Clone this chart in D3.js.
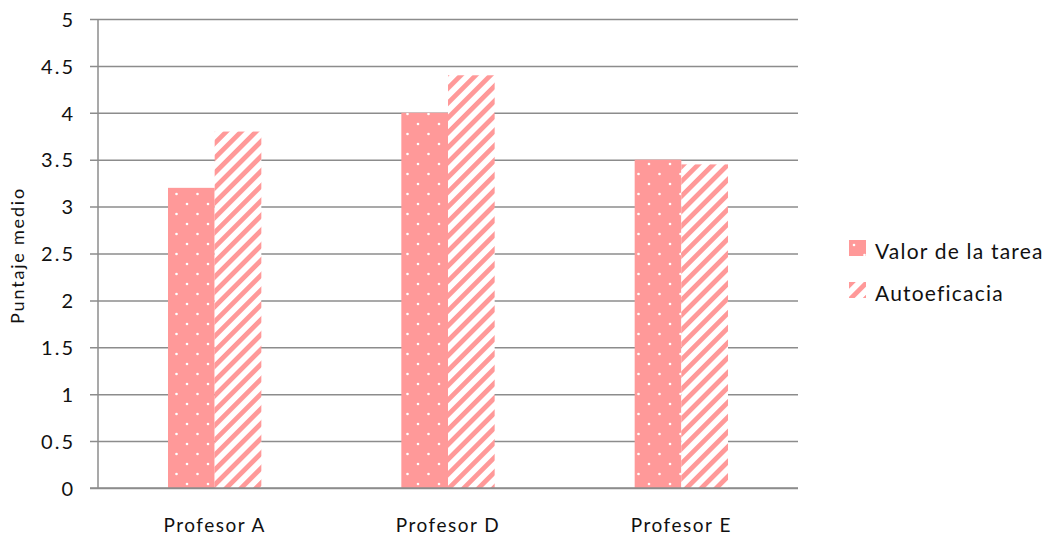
<!DOCTYPE html>
<html>
<head>
<meta charset="utf-8">
<script src="https://cdn.jsdelivr.net/npm/d3@7"></script>
<style>
  html, body { margin: 0; padding: 0; background: #fff; }
  svg { display: block; font-family: Lato, "Open Sans", "DejaVu Sans", sans-serif; }
</style>
</head>
<body>
<svg id="chart" width="1050" height="535"></svg>
<script>
const categories = ["Profesor A", "Profesor D", "Profesor E"];
const seriesNames = ["Valor de la tarea", "Autoeficacia"];
const valorTarea = [3.2, 4.0, 3.5];
const autoeficacia = [3.8, 4.4, 3.45];
const yTicks = [0, 0.5, 1, 1.5, 2, 2.5, 3, 3.5, 4, 4.5, 5];
const yTitle = "Puntaje medio";

const series = [valorTarea, autoeficacia];
const pink = "#ff9999";
const gridColor = "#8c8c8c";
const textColor = "#111";

const svg = d3.select("#chart");
const margin = { left: 98, right: 252, top: 19, bottom: 47 };
const W = 1050, H = 535;
const plotW = W - margin.left - margin.right;
const plotH = H - margin.top - margin.bottom;

// Fill patterns: dotted and diagonal stripes
const defs = svg.append("defs");
const dots = defs.append("pattern")
  .attr("id", "dots").attr("patternUnits", "userSpaceOnUse")
  .attr("width", 21).attr("height", 20);
dots.append("rect").attr("width", 21).attr("height", 20).attr("fill", pink);
dots.append("circle").attr("cx", 5).attr("cy", 5).attr("r", 1.3).attr("fill", "#fff");
dots.append("circle").attr("cx", 15.5).attr("cy", 15).attr("r", 1.3).attr("fill", "#fff");

const stripes = defs.append("pattern")
  .attr("id", "stripes").attr("patternUnits", "userSpaceOnUse")
  .attr("width", 10.5).attr("height", 10.5)
  .attr("patternTransform", "rotate(45)");
stripes.append("rect").attr("width", 10.5).attr("height", 10.5).attr("fill", "#fff");
stripes.append("rect").attr("x", 0).attr("width", 4.8).attr("height", 10.5).attr("fill", pink);

const fills = ["url(#dots)", "url(#stripes)"];

const g = svg.append("g").attr("transform", `translate(${margin.left},${margin.top})`);

const x = d3.scaleBand().domain(categories).range([0, plotW]).paddingInner(0).paddingOuter(0);
const x1 = d3.scaleBand().domain(d3.range(series.length))
  .range([x.bandwidth() * 0.3, x.bandwidth() * 0.7]);
const y = d3.scaleLinear().domain([0, 5]).range([plotH, 0]);

// Horizontal gridlines with tick marks
const yAxis = d3.axisLeft(y).tickValues(yTicks).tickSize(-plotW)
  .tickFormat(d3.format("~g"));
const yg = g.append("g").call(yAxis).attr("font-family", null).attr("font-size", null);
yg.select(".domain").remove();
yg.selectAll(".tick line").attr("stroke", gridColor).attr("stroke-width", 1.5)
  .attr("x1", -8);
yg.selectAll(".tick text").style("font-size", "20px").attr("fill", textColor)
  .attr("letter-spacing", 2)
  .attr("x", -23).attr("dy", "0.36em");

// Bars
categories.forEach((c, i) => {
  series.forEach((s, k) => {
    g.append("rect")
      .attr("x", x(c) + x1(k))
      .attr("y", y(s[i]))
      .attr("width", x1.bandwidth())
      .attr("height", y(0) - y(s[i]))
      .attr("fill", fills[k]);
  });
});

// Axis lines
g.append("line").attr("x1", 0).attr("x2", 0).attr("y1", 0).attr("y2", plotH)
  .attr("stroke", gridColor).attr("stroke-width", 1.5);
g.append("line").attr("x1", -8).attr("x2", plotW).attr("y1", plotH).attr("y2", plotH)
  .attr("stroke", gridColor).attr("stroke-width", 1.5);

// Category labels
const xAxis = d3.axisBottom(x).tickSize(0).tickPadding(0);
const xg = g.append("g").attr("transform", `translate(0,${plotH})`).call(xAxis)
  .attr("font-family", null).attr("font-size", null);
xg.select(".domain").remove();
xg.selectAll(".tick text").style("font-size", "19px").attr("fill", textColor)
  .attr("letter-spacing", 1.5)
  .attr("y", 44).attr("dy", 0);

// Y axis title
svg.append("text")
  .attr("transform", `translate(24,${margin.top + plotH / 2 + 2}) rotate(-90)`)
  .attr("text-anchor", "middle")
  .style("font-size", "18px").attr("fill", textColor)
  .attr("letter-spacing", 1.8)
  .text(yTitle);

// Legend
const legend = svg.append("g").attr("transform", "translate(849,240)");
seriesNames.forEach((name, k) => {
  const row = legend.append("g").attr("transform", `translate(0,${k * 42})`);
  row.append("rect").attr("width", 17).attr("height", 16).attr("fill", fills[k]);
  row.append("text").attr("x", 26).attr("y", 19).style("font-size", "21px")
    .attr("letter-spacing", 1.2)
    .attr("fill", textColor).text(name);
});
</script>
</body>
</html>
